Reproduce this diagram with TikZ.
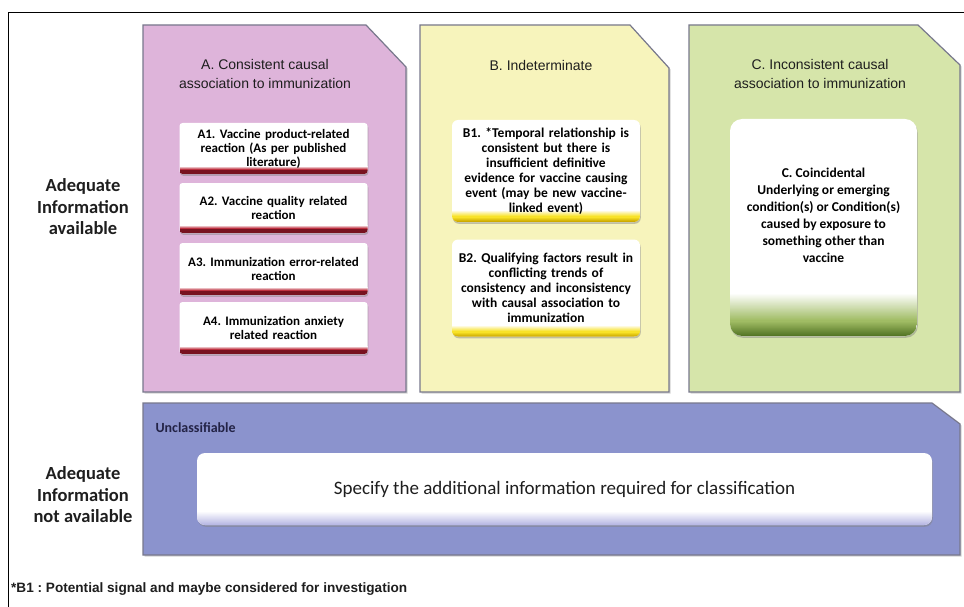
\documentclass[tikz,border=0pt]{standalone}
\usepackage{fontspec}
\setmainfont{Liberation Sans}
\newfontfamily\carl{Carlito}
\usetikzlibrary{shadows}
\definecolor{fillA}{RGB}{222,180,218}
\definecolor{fillB}{RGB}{247,244,188}
\definecolor{fillC}{RGB}{214,229,170}
\definecolor{fillD}{RGB}{139,147,205}
\definecolor{edgeG}{RGB}{120,120,140}
\definecolor{bandA}{RGB}{120,18,32}
\definecolor{bandAm}{RGB}{190,50,65}
\definecolor{bandB}{RGB}{205,170,0}
\definecolor{bandBm}{RGB}{248,226,40}
\definecolor{bandC}{RGB}{85,118,38}
\definecolor{bandCm}{RGB}{160,188,100}
\definecolor{bandD}{RGB}{185,185,228}
\definecolor{txt}{RGB}{30,30,30}
% gradient strips: offset, height, colour at bottom, colour at top
\newcommand\gradband[4]{%
  \foreach \i in {0,...,#2}{%
    \pgfmathtruncatemacro\pp{100*(1-\i/#2)}%
    \fill[sharp corners, #3!\pp!#4] ([yshift=#1pt+\i pt]path picture bounding box.south west)
      rectangle ([yshift=#1pt+\i pt+1.3pt]path picture bounding box.south east);}}
\begin{document}
\frenchspacing
\begin{tikzpicture}[x=1pt,y=-1pt,
  bigbox/.style={draw=edgeG, line width=1.2pt, drop shadow={opacity=0.35, shadow xshift=1.5pt, shadow yshift=-1.5pt}},
  title/.style={align=center, text=txt, font=\fontsize{14}{19}\selectfont},
  side/.style={align=center, text=txt, font=\carl\bfseries\fontsize{18.5}{21.5}\selectfont},
  inbox/.style={fill=white, draw=none, align=center, inner sep=1pt,
     drop shadow={opacity=0.45, shadow xshift=0.8pt, shadow yshift=-1.8pt}},
  abox/.style={inbox, rounded corners=3pt, minimum width=187pt, text width=186pt,
     font=\carl\bfseries\fontsize{13}{14}\selectfont,
     path picture={\fill[sharp corners, bandA] (path picture bounding box.south west) rectangle ([yshift=4pt]path picture bounding box.south east);
       \gradband{4}{3}{bandAm}{white}}},
  bbox/.style={inbox, rounded corners=6pt, minimum width=187pt, text width=186pt,
     font=\carl\bfseries\fontsize{13.5}{15}\selectfont,
     path picture={\gradband{0}{4}{bandB}{bandBm}\gradband{5}{6}{bandBm}{white}}},
  cbox/.style={inbox, rounded corners=12pt, minimum width=187pt, minimum height=217pt,
     path picture={\gradband{0}{14}{bandC}{bandCm}\gradband{15}{27}{bandCm}{white}}},
  dbox/.style={inbox, rounded corners=8pt, minimum width=735pt, minimum height=72pt,
     font=\carl\fontsize{19}{22}\selectfont, text=txt,
     path picture={\gradband{0}{13}{bandD}{white}}}
]
\useasboundingbox (0,0) rectangle (964,607);
\fill[white] (0,0) rectangle (964,607);
\draw[black, line width=0.9pt] (8,640) -- (8,12) -- (990,12);

% big containers
\path[bigbox, fill=fillA] (143,25) -- (366,25) -- (406,67) -- (406,392) -- (143,392) -- cycle;
\path[bigbox, fill=fillB] (420,25) -- (630,25) -- (669,68) -- (669,392) -- (420,392) -- cycle;
\path[bigbox, fill=fillC] (689,25) -- (918,25) -- (960,65) -- (960,392) -- (689,392) -- cycle;
\path[bigbox, fill=fillD] (143,403) -- (932,403) -- (960,424) -- (960,555) -- (143,555) -- cycle;

% titles
\node[title] (tA) at (265,74) {A. Consistent causal\\association to immunization};
\node[title] (tB) at (541,65) {B. Indeterminate};
\node[title] (tC) at (820,74) {C. Inconsistent causal\\association to immunization};

% A boxes
\node[abox, minimum height=51pt] (a1) at (273.5,148.5) {A1. Vaccine product-related\\reaction (As per published\\literature)\\[2pt]};
\node[abox, minimum height=50pt] (a2) at (273.5,208) {A2. Vaccine quality related\\reaction\\[-2pt]};
\node[abox, minimum height=52pt] (a3) at (273.5,269) {A3. Immunization error-related\\reaction\\[-2pt]};
\node[abox, minimum height=52pt] (a4) at (273.5,328) {A4. Immunization anxiety\\related reaction\\[-2pt]};

% B boxes
\node[bbox, minimum height=102pt] (b1) at (546,171) {B1. *Temporal relationship is\\consistent but there is\\insufficient definitive\\evidence for vaccine causing\\event (may be new vaccine-\\linked event)};
\node[bbox, minimum height=97pt] (b2) at (546,288) {B2. Qualifying factors result in\\conflicting trends of\\consistency and inconsistency\\with causal association to\\immunization};

% C box
\node[cbox] (c) at (823.5,227.5) {};
\node[align=center, font=\carl\bfseries\fontsize{13.5}{17}\selectfont] (ct) at (823.5,215)
  {C. Coincidental\\Underlying or emerging\\condition(s) or Condition(s)\\caused by exposure to\\something other than\\vaccine};

% D
\node[anchor=west, font=\carl\bfseries\fontsize{14}{16}\selectfont, text={rgb,255:red,35;green,35;blue,70}] (u) at (152,428) {Unclassifiable};
\node[dbox] (d) at (564.5,489) {Specify the additional information required for classification};

% side labels
\node[side] (s1) at (83,207) {Adequate\\Information\\available};
\node[side] (s2) at (83,495) {Adequate\\Information\\not available};

% footnote
\node[anchor=west, inner sep=0pt, text=txt, font=\bfseries\fontsize{13.6}{15}\selectfont] (fn) at (11,589)
  {*B1 : Potential signal and maybe considered for investigation};
\end{tikzpicture}
\end{document}
